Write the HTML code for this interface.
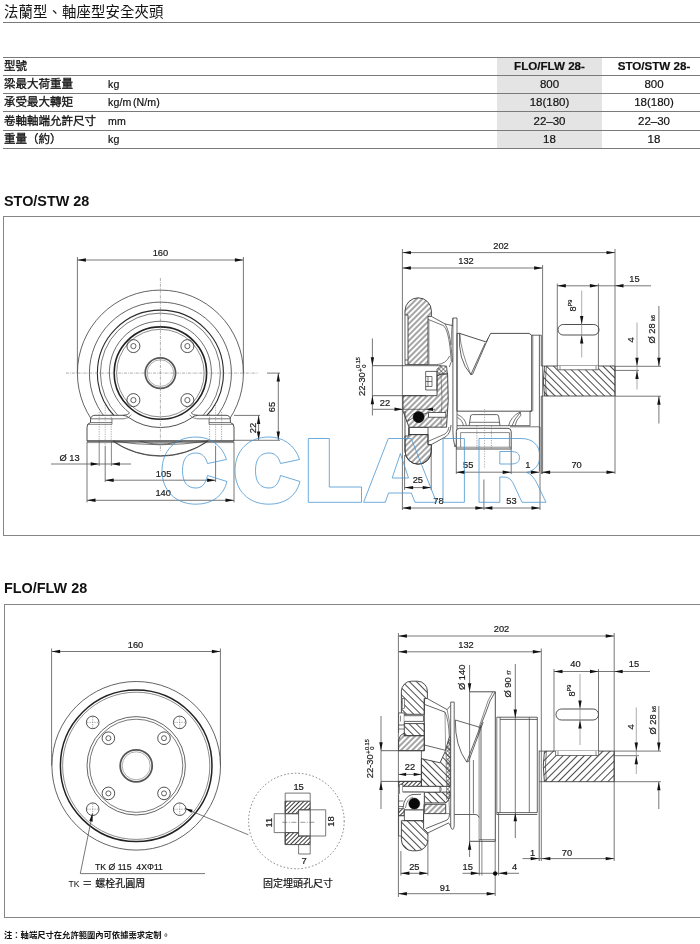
<!DOCTYPE html>
<html lang="zh-Hant">
<head>
<meta charset="utf-8">
<title>法蘭型、軸座型安全夾頭</title>
<style>
html,body{margin:0;padding:0;}
body{width:700px;height:944px;position:relative;overflow:hidden;background:#fff;font-family:"Liberation Sans","Noto Sans CJK TC",sans-serif;color:#111;}
.abs{position:absolute;white-space:nowrap;}
.title{left:4px;top:3px;font-size:14.4px;line-height:18px;color:#111;letter-spacing:0.1px;}
.hr{position:absolute;left:3px;right:0;height:1px;background:#7a7a7a;}
.shade{position:absolute;left:497px;top:57px;width:105px;height:91px;background:#e4e4e4;}
.row{position:absolute;left:0;width:700px;height:18px;font-size:11.5px;line-height:18px;}
.row span{position:absolute;top:0;white-space:nowrap;}
.row .l{left:4px;font-size:11.5px;font-weight:normal;-webkit-text-stroke:0.3px #111;color:#111;}
.row .u{left:108px;font-size:10.6px;letter-spacing:0.1px;-webkit-text-stroke:0.2px #111;}
.row .a{left:497px;width:105px;text-align:center;-webkit-text-stroke:0.2px #111;}
.row .b{left:602px;width:104px;text-align:center;-webkit-text-stroke:0.2px #111;}
.row.h .a,.row.h .b{font-weight:bold;font-size:11.6px;}
h2{position:absolute;margin:0;left:4px;font-size:14.4px;line-height:16px;font-weight:bold;color:#111;white-space:nowrap;}
.frame{position:absolute;left:3px;width:720px;border:1px solid #858585;box-sizing:border-box;}
.cap{font-size:10px;line-height:12px;color:#111;-webkit-text-stroke:0.2px #111;}
.note{left:4px;top:929px;font-size:8.3px;line-height:12px;font-weight:bold;color:#111;}
svg{position:absolute;left:0;top:0;will-change:transform;}
#txt{position:absolute;left:0;top:0;width:700px;height:944px;will-change:transform;}
</style>
</head>
<body>
<div id="txt">
<div class="abs title">法蘭型、軸座型安全夾頭</div>
<div class="hr" style="top:22px"></div>

<div class="shade"></div>
<div class="hr" style="top:57px"></div>
<div class="hr" style="top:75px"></div>
<div class="hr" style="top:93px"></div>
<div class="hr" style="top:111px"></div>
<div class="hr" style="top:130px"></div>
<div class="hr" style="top:148px"></div>

<div class="row h" style="top:57.3px"><span class="l">型號</span><span class="a">FLO/FLW 28-</span><span class="b">STO/STW 28-</span></div>
<div class="row" style="top:75.4px"><span class="l">梁最大荷重量</span><span class="u">kg</span><span class="a">800</span><span class="b">800</span></div>
<div class="row" style="top:93.4px"><span class="l">承受最大轉矩</span><span class="u">kg/m<i style="font-style:normal;margin-left:1.6px">(N/m)</i></span><span class="a">18(180)</span><span class="b">18(180)</span></div>
<div class="row" style="top:111.5px"><span class="l">卷軸軸端允許尺寸</span><span class="u">mm</span><span class="a">22–30</span><span class="b">22–30</span></div>
<div class="row" style="top:130.3px"><span class="l">重量（約）</span><span class="u">kg</span><span class="a">18</span><span class="b">18</span></div>

<h2 style="top:193px">STO/STW 28</h2>
<div class="frame" style="top:216px;height:320px"></div>

<h2 style="top:580px">FLO/FLW 28</h2>
<div class="frame" style="top:604px;height:314px;left:4px"></div>

<div class="abs cap" style="left:68.6px;top:877.6px"><span style="font-size:8.6px;-webkit-text-stroke:0;color:#111">TK</span><span>&nbsp;＝&nbsp;螺栓孔圓周</span></div>
<div class="abs cap" style="left:263px;top:878px">固定埋頭孔尺寸</div>
<div class="abs note">注：軸端尺寸在允許範圍內可依據需求定制。</div>

</div>
<svg id="dwg" width="700" height="944" viewBox="0 0 700 944" font-family="Liberation Sans, sans-serif">
<!--DRAWINGS-->
<defs>
<pattern id="hA" width="4" height="4" patternUnits="userSpaceOnUse" patternTransform="rotate(-45)"><line x1="0" y1="2" x2="4" y2="2" stroke="#2a2a2a" stroke-width="0.85"/></pattern>
<pattern id="hB" width="5" height="5" patternUnits="userSpaceOnUse" patternTransform="rotate(45)"><line x1="0" y1="2.5" x2="5" y2="2.5" stroke="#2a2a2a" stroke-width="0.85"/></pattern>
<pattern id="hC" width="3" height="3" patternUnits="userSpaceOnUse" patternTransform="rotate(-45)"><line x1="0" y1="1.5" x2="3" y2="1.5" stroke="#222" stroke-width="0.9"/></pattern>
<pattern id="hD" width="5" height="5" patternUnits="userSpaceOnUse" patternTransform="rotate(-45)"><line x1="0" y1="2.5" x2="5" y2="2.5" stroke="#2a2a2a" stroke-width="0.85"/></pattern>
<pattern id="hX" width="3" height="3" patternUnits="userSpaceOnUse" patternTransform="rotate(45)"><line x1="0" y1="1.5" x2="3" y2="1.5" stroke="#444" stroke-width="0.6"/><line x1="1.5" y1="0" x2="1.5" y2="3" stroke="#444" stroke-width="0.6"/></pattern>
</defs>
<g id="d1front">
<circle cx="160.4" cy="373.1" r="83" stroke="#3c3c3c" stroke-width="0.8" fill="none"/>
<circle cx="160.4" cy="373.1" r="71" stroke="#3c3c3c" stroke-width="0.8" fill="none"/>
<circle cx="160.4" cy="373.1" r="63" stroke="#2a2a2a" stroke-width="1.1" fill="none"/>
<circle cx="160.4" cy="373.1" r="60" stroke="#3c3c3c" stroke-width="0.7" fill="none"/>
<path d="M87 441 L87 427 Q87 423.5 90.5 422.6 L90.5 419.5 Q91 415.3 95 415.3 L123 415.3 Q127.6 415.9 128.8 417.6 A55.3 55.3 0 0 0 192 417.6 Q193.2 415.9 197.8 415.3 L226 415.3 Q230 415.3 230.4 419.5 L230.4 422.6 Q234 423.5 234 427 L234 441 Z" stroke="#3c3c3c" stroke-width="0.9" fill="#fff"/>
<line x1="90.5" y1="418.8" x2="124" y2="418.8" stroke="#3c3c3c" stroke-width="0.7"/>
<line x1="197" y1="418.8" x2="230.4" y2="418.8" stroke="#3c3c3c" stroke-width="0.7"/>
<line x1="90.5" y1="422.6" x2="112" y2="422.6" stroke="#3c3c3c" stroke-width="0.7"/>
<line x1="209" y1="422.6" x2="230.4" y2="422.6" stroke="#3c3c3c" stroke-width="0.7"/>
<path d="M112 418.8 L112 424.4 L87.5 424.4" stroke="#3c3c3c" stroke-width="0.6" fill="none"/>
<path d="M209 418.8 L209 424.4 L233.5 424.4" stroke="#3c3c3c" stroke-width="0.6" fill="none"/>
<line x1="87" y1="441" x2="234" y2="441" stroke="#3c3c3c" stroke-width="1.0"/>
<line x1="87" y1="442.6" x2="234" y2="442.6" stroke="#3c3c3c" stroke-width="0.6"/>
<path d="M123 415.3 Q128.4 415 129.6 412.9 A51 51 0 1 1 191.2 412.9 Q192.4 415 197.8 415.3" stroke="#3c3c3c" stroke-width="0.75" fill="none"/>
<path d="M124 418.8 Q129.4 418.4 131.2 414.6 M197 418.8 Q191.4 418.4 189.6 414.6" stroke="#3c3c3c" stroke-width="0.6" fill="none"/>
<circle cx="160.4" cy="373.1" r="46.2" stroke="#222" stroke-width="1.6" fill="none"/>
<circle cx="160.4" cy="373.1" r="43.8" stroke="#3c3c3c" stroke-width="0.6" fill="none"/>
<circle cx="160.4" cy="373.1" r="15.2" stroke="#555" stroke-width="1.7" fill="none"/>
<circle cx="160.4" cy="373.1" r="13.3" stroke="#777" stroke-width="0.6" fill="none"/>
<circle cx="133.4" cy="346.1" r="6.5" stroke="#3c3c3c" stroke-width="0.9" fill="none"/>
<circle cx="133.4" cy="346.1" r="2.6" stroke="#3c3c3c" stroke-width="0.8" fill="none"/>
<circle cx="133.4" cy="400.1" r="6.5" stroke="#3c3c3c" stroke-width="0.9" fill="none"/>
<circle cx="133.4" cy="400.1" r="2.6" stroke="#3c3c3c" stroke-width="0.8" fill="none"/>
<circle cx="187.4" cy="346.1" r="6.5" stroke="#3c3c3c" stroke-width="0.9" fill="none"/>
<circle cx="187.4" cy="346.1" r="2.6" stroke="#3c3c3c" stroke-width="0.8" fill="none"/>
<circle cx="187.4" cy="400.1" r="6.5" stroke="#3c3c3c" stroke-width="0.9" fill="none"/>
<circle cx="187.4" cy="400.1" r="2.6" stroke="#3c3c3c" stroke-width="0.8" fill="none"/>
<path d="M113 441 A83 83 0 0 0 207.8 441" stroke="#3c3c3c" stroke-width="0.8" fill="none"/>
<path d="M113 441 Q160.4 448.6 207.8 441" stroke="#3c3c3c" stroke-width="0.7" fill="none"/>
<line x1="99.2" y1="412" x2="99.2" y2="441" stroke="#666" stroke-width="0.6" stroke-dasharray="1.2 1.2"/>
<line x1="111.2" y1="412" x2="111.2" y2="441" stroke="#666" stroke-width="0.6" stroke-dasharray="1.2 1.2"/>
<line x1="105.2" y1="405" x2="105.2" y2="446" stroke="#777" stroke-width="0.6" stroke-dasharray="1.2 1.2"/>
<line x1="209.6" y1="412" x2="209.6" y2="441" stroke="#666" stroke-width="0.6" stroke-dasharray="1.2 1.2"/>
<line x1="221.6" y1="412" x2="221.6" y2="441" stroke="#666" stroke-width="0.6" stroke-dasharray="1.2 1.2"/>
<line x1="215.6" y1="405" x2="215.6" y2="446" stroke="#777" stroke-width="0.6" stroke-dasharray="1.2 1.2"/>
<line x1="160.4" y1="278" x2="160.4" y2="452" stroke="#777" stroke-width="0.6" stroke-dasharray="3 1 0.8 1"/>
<line x1="66" y1="373.1" x2="258" y2="373.1" stroke="#777" stroke-width="0.6" stroke-dasharray="3 1 0.8 1"/>
<line x1="77.4" y1="257" x2="77.4" y2="373.1" stroke="#555" stroke-width="0.8"/>
<line x1="243.4" y1="257" x2="243.4" y2="373.1" stroke="#555" stroke-width="0.8"/>
<line x1="77.4" y1="260" x2="243.4" y2="260" stroke="#555" stroke-width="0.8"/>
<polygon points="77.4,260.0 85.9,258.3 85.9,261.7" fill="#111"/>
<polygon points="243.4,260.0 234.9,258.3 234.9,261.7" fill="#111"/>
<text x="160.4" y="256.3" font-size="9.3" text-anchor="middle" fill="#1a1a1a" stroke="#1a1a1a" stroke-width="0.2">160</text>
<line x1="267" y1="373.1" x2="280" y2="373.1" stroke="#555" stroke-width="0.8"/>
<line x1="234" y1="440.3" x2="280" y2="440.3" stroke="#555" stroke-width="0.8"/>
<line x1="278.3" y1="373.1" x2="278.3" y2="440" stroke="#555" stroke-width="0.8"/>
<polygon points="278.3,373.1 276.6,381.6 280.0,381.6" fill="#111"/>
<polygon points="278.3,440.0 276.6,431.5 280.0,431.5" fill="#111"/>
<text x="275.4" y="407" font-size="9.3" text-anchor="middle" fill="#1a1a1a" stroke="#1a1a1a" stroke-width="0.2" transform="rotate(-90 275.4 407)">65</text>
<line x1="234" y1="415.4" x2="260" y2="415.4" stroke="#555" stroke-width="0.8"/>
<line x1="258.6" y1="415.4" x2="258.6" y2="440" stroke="#555" stroke-width="0.8"/>
<polygon points="258.6,415.4 256.9,423.9 260.3,423.9" fill="#111"/>
<polygon points="258.6,440.0 256.9,431.5 260.3,431.5" fill="#111"/>
<text x="255.8" y="428" font-size="9.3" text-anchor="middle" fill="#1a1a1a" stroke="#1a1a1a" stroke-width="0.2" transform="rotate(-90 255.8 428)">22</text>
<line x1="51" y1="464" x2="131" y2="464" stroke="#555" stroke-width="0.8"/>
<polygon points="99.2,464.0 90.7,462.3 90.7,465.7" fill="#111"/>
<polygon points="111.4,464.0 119.9,462.3 119.9,465.7" fill="#111"/>
<line x1="99.2" y1="441" x2="99.2" y2="466" stroke="#555" stroke-width="0.7"/>
<line x1="111.4" y1="441" x2="111.4" y2="466" stroke="#555" stroke-width="0.7"/>
<text x="59.5" y="461" font-size="9.3" text-anchor="start" fill="#1a1a1a" stroke="#1a1a1a" stroke-width="0.2">Ø 13</text>
<line x1="105.2" y1="446" x2="105.2" y2="482" stroke="#555" stroke-width="0.8"/>
<line x1="215.6" y1="446" x2="215.6" y2="482" stroke="#555" stroke-width="0.8"/>
<line x1="105.2" y1="480.2" x2="215.6" y2="480.2" stroke="#555" stroke-width="0.8"/>
<polygon points="105.2,480.2 113.7,478.5 113.7,481.9" fill="#111"/>
<polygon points="215.6,480.2 207.1,478.5 207.1,481.9" fill="#111"/>
<text x="163.6" y="476.5" font-size="9.3" text-anchor="middle" fill="#1a1a1a" stroke="#1a1a1a" stroke-width="0.2">105</text>
<line x1="87" y1="442" x2="87" y2="502.5" stroke="#555" stroke-width="0.8"/>
<line x1="234" y1="442" x2="234" y2="502.5" stroke="#555" stroke-width="0.8"/>
<line x1="87" y1="500.3" x2="234" y2="500.3" stroke="#555" stroke-width="0.8"/>
<polygon points="87.0,500.3 95.5,498.6 95.5,502.0" fill="#111"/>
<polygon points="234.0,500.3 225.5,498.6 225.5,502.0" fill="#111"/>
<text x="163.2" y="496" font-size="9.3" text-anchor="middle" fill="#1a1a1a" stroke="#1a1a1a" stroke-width="0.2">140</text>
</g>
<g id="d1side">
<line x1="402.4" y1="249" x2="402.4" y2="510" stroke="#555" stroke-width="0.8"/>
<line x1="615" y1="249" x2="615" y2="474" stroke="#555" stroke-width="0.8"/>
<line x1="542.6" y1="265" x2="542.6" y2="474" stroke="#555" stroke-width="0.8"/>
<line x1="402.4" y1="252.6" x2="615" y2="252.6" stroke="#555" stroke-width="0.8"/>
<polygon points="402.4,252.6 410.9,250.9 410.9,254.3" fill="#111"/>
<polygon points="615.0,252.6 606.5,250.9 606.5,254.3" fill="#111"/>
<text x="501" y="248.5" font-size="9.3" text-anchor="middle" fill="#1a1a1a" stroke="#1a1a1a" stroke-width="0.2">202</text>
<line x1="402.4" y1="268" x2="542.6" y2="268" stroke="#555" stroke-width="0.8"/>
<polygon points="402.4,268.0 410.9,266.3 410.9,269.7" fill="#111"/>
<polygon points="542.6,268.0 534.1,266.3 534.1,269.7" fill="#111"/>
<text x="466" y="264" font-size="9.3" text-anchor="middle" fill="#1a1a1a" stroke="#1a1a1a" stroke-width="0.2">132</text>
<path d="M408 364.6 L408 315 L405 315 L405 311 A13.2 13.2 0 0 1 431.4 311 L431.4 316.4 L428 316.4 L428 364.6 Z" stroke="#3c3c3c" stroke-width="0.9" fill="url(#hA)"/>
<path d="M405 315 L405 364.6 L408 364.6 M405 360 L408 360" stroke="#3c3c3c" stroke-width="0.8" fill="none"/>
<path d="M431.4 316.4 L445 323.9 L452.9 325.7" stroke="#3c3c3c" stroke-width="0.8" fill="none"/>
<path d="M428 319.3 L443.6 325.7 Q448 330 450 347 L451.4 361.4 L449.3 367" stroke="#3c3c3c" stroke-width="0.7" fill="none"/>
<path d="M445 323.9 Q449.5 331 451.1 347 L452.6 362" stroke="#3c3c3c" stroke-width="0.7" fill="none"/>
<path d="M428 364.6 L437 364.6 Q446 364 449.6 356" stroke="#3c3c3c" stroke-width="0.7" fill="none"/>
<line x1="429" y1="320" x2="429" y2="364.6" stroke="#3c3c3c" stroke-width="0.5"/>
<path d="M452.9 318 L457 318 L457 440 Q456.5 445 455 447 Q453 440 452.9 432 Z" stroke="#3c3c3c" stroke-width="0.8" fill="#fff"/>
<path d="M452.9 318 Q451 330 451.3 345" stroke="#3c3c3c" stroke-width="0.6" fill="none"/>
<line x1="372" y1="365.7" x2="441" y2="365.7" stroke="#3c3c3c" stroke-width="0.8"/>
<line x1="372" y1="395.7" x2="426" y2="395.7" stroke="#3c3c3c" stroke-width="0.8"/>
<path d="M425.7 371.4 H437 V390 H425.7 Z" stroke="#3c3c3c" stroke-width="0.8" fill="none"/>
<path d="M425.7 376.5 H432 V386.5 H425.7 M428 376.5 V386.5 M425.7 381.5 H432" stroke="#3c3c3c" stroke-width="0.7" fill="none"/>
<path d="M437 369 L441 365.7 L446.5 366 L447.6 374 L441 374 L437 376 Z" stroke="#3c3c3c" stroke-width="0.7" fill="url(#hX)"/>
<path d="M403 395.7 L437 395.7 L437 376 L441 374 L447.6 374 Q449.4 400 446.5 427.2 L409 427.2 L403 411 Z" stroke="#3c3c3c" stroke-width="0.9" fill="url(#hA)"/>
<path d="M441 374 Q443 398 441 425" stroke="#3c3c3c" stroke-width="0.5" fill="none"/>
<rect x="428.6" y="412.6" width="17.2" height="4.6" rx="0" stroke="#3c3c3c" stroke-width="0.8" fill="#fff"/>
<path d="M408 420 L413 414 L424 414 L428.6 412.6" stroke="#3c3c3c" stroke-width="0.7" fill="#fff"/>
<path d="M406.5 421.5 L414 417.5" stroke="#3c3c3c" stroke-width="0.7" fill="none"/>
<circle cx="418.6" cy="417.1" r="5.6" stroke="#000" stroke-width="0.5" fill="#0a0a0a"/>
<rect x="409.3" y="427.6" width="18.7" height="7" rx="0" stroke="#3c3c3c" stroke-width="0.8" fill="#fff"/>
<path d="M405 411 L405 451 A13.2 13.2 0 0 0 431.4 451 L431.4 444.6 L428 444.6 L428 434.6 L408.6 434.6 L408.6 427.2" stroke="#3c3c3c" stroke-width="0.9" fill="none"/>
<path d="M408.6 434.6 L428 434.6 L428 444.6 L431.4 444.6 L431.4 451 A13.2 13.2 0 0 1 405 451 L405 436 L408.6 436 Z" stroke="#3c3c3c" stroke-width="0.9" fill="url(#hA)"/>
<path d="M431.4 444.6 L446 436.5 Q450.5 433 451 425" stroke="#3c3c3c" stroke-width="0.8" fill="none"/>
<path d="M428 441.4 L445 434 Q448.5 431.5 449 427" stroke="#3c3c3c" stroke-width="0.7" fill="none"/>
<path d="M459.7 333.4 L486.3 342 L490.6 333.4 L529.1 333.4 L531.7 335.2 L531.7 411.2 L457 411.2 L457 333.4 Z" stroke="#3c3c3c" stroke-width="0.9" fill="none"/>
<path d="M459.7 333.4 Q457.5 360 470.9 374.6 L485.2 343 M470.9 374.6 L472.6 374.2 L488 338.5" stroke="#3c3c3c" stroke-width="0.8" fill="none"/>
<path d="M459.7 333.4 Q461 352 470.9 374.6" stroke="#3c3c3c" stroke-width="0.6" fill="none"/>
<path d="M531.7 335.2 L539.4 335.2 L539.4 471.5 M541.3 335.2 L539.4 335.2 M541.3 335.2 L541.3 366 M541.3 396 L541.3 474" stroke="#3c3c3c" stroke-width="0.8" fill="none"/>
<line x1="532.8" y1="335.2" x2="532.8" y2="411.2" stroke="#3c3c3c" stroke-width="0.6"/>
<path d="M531.7 411.2 L530 411.2 L530 425.7" stroke="#3c3c3c" stroke-width="0.8" fill="none"/>
<path d="M544.5 366 L615 366 L615 396 L544.5 396 Q542.2 381 544.5 366 Z" stroke="#3c3c3c" stroke-width="0.9" fill="url(#hB)"/>
<path d="M541.3 366 L544.5 366 M541.3 396 L544.5 396 M546.4 366 Q544.4 381 546.4 396" stroke="#3c3c3c" stroke-width="0.7" fill="none"/>
<path d="M557.3 366 L557.3 369.8 L598.4 369.8 L598.4 366" stroke="#3c3c3c" stroke-width="0.7" fill="#fff"/>
<line x1="560" y1="366" x2="560" y2="369.8" stroke="#3c3c3c" stroke-width="0.6"/>
<line x1="596" y1="366" x2="596" y2="369.8" stroke="#3c3c3c" stroke-width="0.6"/>
<path d="M457 425.7 L530 425.7" stroke="#3c3c3c" stroke-width="0.8" fill="none"/>
<path d="M456.3 449 L456.3 431.5 Q456.3 428.3 459.5 428.3 L508 428.3 Q511.2 428.3 511.2 431.5 L511.2 449 Z" stroke="#3c3c3c" stroke-width="0.9" fill="#fff"/>
<path d="M460.6 447.2 L460.6 432.6 L509.4 432.6 L509.4 447.2" stroke="#3c3c3c" stroke-width="0.6" fill="none"/>
<line x1="456.3" y1="447.2" x2="511.2" y2="447.2" stroke="#3c3c3c" stroke-width="0.6"/>
<line x1="510" y1="426.8" x2="539.4" y2="426.8" stroke="#3c3c3c" stroke-width="0.7"/>
<path d="M469.1 425.7 L470.6 416 Q471 414.6 472.5 414.6 L496.6 414.6 Q498.2 414.6 498.6 416 L500 425.7" stroke="#3c3c3c" stroke-width="0.8" fill="none"/>
<line x1="469.6" y1="422.3" x2="499.6" y2="422.3" stroke="#3c3c3c" stroke-width="0.7"/>
<path d="M457.4 417.5 Q462.5 420 463.4 425.7 M457.4 414.5 Q465.5 418 466.4 425.7" stroke="#3c3c3c" stroke-width="0.7" fill="none"/>
<path d="M520 412 Q510.5 417 508.6 425.7 M520.6 412 Q514 419 512 425.7 M520 412 L521 415 Q516 420 515 425.7" stroke="#3c3c3c" stroke-width="0.7" fill="none"/>
<line x1="476.9" y1="425.7" x2="476.9" y2="449" stroke="#666" stroke-width="0.6" stroke-dasharray="1.2 1.2"/>
<line x1="491.4" y1="425.7" x2="491.4" y2="449" stroke="#666" stroke-width="0.6" stroke-dasharray="1.2 1.2"/>
<line x1="484.6" y1="409" x2="484.6" y2="469" stroke="#777" stroke-width="0.6" stroke-dasharray="1.2 1.4"/>
<line x1="483.9" y1="479.5" x2="483.9" y2="510" stroke="#555" stroke-width="0.8"/>
<line x1="456.3" y1="449" x2="456.3" y2="474" stroke="#555" stroke-width="0.8"/>
<line x1="511.2" y1="449" x2="511.2" y2="474" stroke="#555" stroke-width="0.8"/>
<line x1="456.3" y1="472.2" x2="511.2" y2="472.2" stroke="#555" stroke-width="0.8"/>
<polygon points="456.3,472.2 464.8,470.5 464.8,473.9" fill="#111"/>
<polygon points="511.2,472.2 502.7,470.5 502.7,473.9" fill="#111"/>
<text x="468.2" y="467.6" font-size="9.3" text-anchor="middle" fill="#1a1a1a" stroke="#1a1a1a" stroke-width="0.2">55</text>
<line x1="511.2" y1="472.2" x2="539.4" y2="472.2" stroke="#555" stroke-width="0.8"/>
<polygon points="539.4,472.2 530.9,470.5 530.9,473.9" fill="#111"/>
<line x1="541.3" y1="472.2" x2="615" y2="472.2" stroke="#555" stroke-width="0.8"/>
<polygon points="541.6,472.2 550.1,470.5 550.1,473.9" fill="#111"/>
<polygon points="615.0,472.2 606.5,470.5 606.5,473.9" fill="#111"/>
<text x="527.8" y="468.3" font-size="9.3" text-anchor="middle" fill="#1a1a1a" stroke="#1a1a1a" stroke-width="0.2">1</text>
<text x="576.6" y="468.3" font-size="9.3" text-anchor="middle" fill="#1a1a1a" stroke="#1a1a1a" stroke-width="0.2">70</text>
<line x1="404.6" y1="455" x2="404.6" y2="490" stroke="#555" stroke-width="0.8"/>
<line x1="431.2" y1="444" x2="431.2" y2="490" stroke="#555" stroke-width="0.8"/>
<line x1="404.6" y1="487.6" x2="431.2" y2="487.6" stroke="#555" stroke-width="0.8"/>
<polygon points="404.6,487.6 413.1,485.9 413.1,489.3" fill="#111"/>
<polygon points="431.2,487.6 422.7,485.9 422.7,489.3" fill="#111"/>
<text x="417.8" y="483" font-size="9.3" text-anchor="middle" fill="#1a1a1a" stroke="#1a1a1a" stroke-width="0.2">25</text>
<line x1="402.4" y1="508" x2="540" y2="508" stroke="#555" stroke-width="0.8"/>
<polygon points="402.4,508.0 410.9,506.3 410.9,509.7" fill="#111"/>
<polygon points="483.9,508.0 475.4,506.3 475.4,509.7" fill="#111"/>
<polygon points="483.9,508.0 492.4,506.3 492.4,509.7" fill="#111"/>
<polygon points="540.0,508.0 531.5,506.3 531.5,509.7" fill="#111"/>
<line x1="540" y1="427" x2="540" y2="510" stroke="#555" stroke-width="0.8"/>
<text x="438.4" y="504.2" font-size="9.3" text-anchor="middle" fill="#1a1a1a" stroke="#1a1a1a" stroke-width="0.2">78</text>
<text x="511.5" y="504.2" font-size="9.3" text-anchor="middle" fill="#1a1a1a" stroke="#1a1a1a" stroke-width="0.2">53</text>
<line x1="372.4" y1="338.5" x2="372.4" y2="415.5" stroke="#555" stroke-width="0.8"/>
<polygon points="372.4,365.7 370.7,357.2 374.1,357.2" fill="#111"/>
<polygon points="372.4,395.7 370.7,404.2 374.1,404.2" fill="#111"/>
<text transform="translate(364.6 396) rotate(-90)" font-size="9.3" fill="#1a1a1a" stroke="#1a1a1a" stroke-width="0.2">22-30<tspan font-size="6.5" dy="-2" dx="0.3">+</tspan><tspan font-size="5.6" dy="-2.2" dx="0.2">0.15</tspan><tspan font-size="5.6" dy="5.6" dx="-10.6">0</tspan></text>
<line x1="373" y1="409.3" x2="435" y2="409.3" stroke="#555" stroke-width="0.8"/>
<polygon points="403.0,409.3 394.5,407.6 394.5,411.0" fill="#111"/>
<polygon points="426.0,409.3 433.0,407.6 433.0,411.0" fill="#111"/>
<text x="385" y="405.7" font-size="9.3" text-anchor="middle" fill="#1a1a1a" stroke="#1a1a1a" stroke-width="0.2">22</text>
<line x1="557.3" y1="283.5" x2="557.3" y2="366" stroke="#555" stroke-width="0.8"/>
<line x1="598.4" y1="283.5" x2="598.4" y2="366" stroke="#555" stroke-width="0.8"/>
<line x1="557.3" y1="285.8" x2="651" y2="285.8" stroke="#555" stroke-width="0.8"/>
<polygon points="557.3,285.8 565.8,284.1 565.8,287.5" fill="#111"/>
<polygon points="598.4,285.8 589.9,284.1 589.9,287.5" fill="#111"/>
<polygon points="615.0,285.8 623.5,284.1 623.5,287.5" fill="#111"/>
<text x="634.4" y="282.3" font-size="9.3" text-anchor="middle" fill="#1a1a1a" stroke="#1a1a1a" stroke-width="0.2">15</text>
<rect x="558" y="324.5" width="41" height="10.5" rx="5.2" stroke="#3c3c3c" stroke-width="0.9" fill="none"/>
<line x1="581.7" y1="290.5" x2="581.7" y2="357.5" stroke="#888" stroke-width="0.7"/>
<polygon points="581.7,324.5 580.0,316.0 583.4,316.0" fill="#111"/>
<polygon points="581.7,335.0 580.0,343.5 583.4,343.5" fill="#111"/>
<text transform="translate(576.3 311.5) rotate(-90)" font-size="9.3" fill="#1a1a1a" stroke="#1a1a1a" stroke-width="0.2">8<tspan font-size="5.5" dy="-4">P9</tspan></text>
<line x1="615" y1="366.3" x2="661" y2="366.3" stroke="#555" stroke-width="0.8"/>
<line x1="615" y1="370.4" x2="639" y2="370.4" stroke="#555" stroke-width="0.8"/>
<line x1="615" y1="396.2" x2="661" y2="396.2" stroke="#555" stroke-width="0.8"/>
<line x1="637" y1="322.5" x2="637" y2="389.5" stroke="#888" stroke-width="0.7"/>
<polygon points="637.0,366.3 635.3,357.8 638.7,357.8" fill="#111"/>
<polygon points="637.0,370.4 635.3,378.9 638.7,378.9" fill="#111"/>
<text x="634.3" y="340" font-size="9.3" text-anchor="middle" fill="#1a1a1a" stroke="#1a1a1a" stroke-width="0.2" transform="rotate(-90 634.3 340)">4</text>
<line x1="658.9" y1="306" x2="658.9" y2="366" stroke="#555" stroke-width="0.8"/>
<polygon points="658.9,366.3 657.2,357.8 660.6,357.8" fill="#111"/>
<line x1="658.9" y1="396" x2="658.9" y2="423.5" stroke="#555" stroke-width="0.8"/>
<polygon points="658.9,396.2 657.2,404.7 660.6,404.7" fill="#111"/>
<text transform="translate(655.4 343.5) rotate(-90)" font-size="9.3" fill="#1a1a1a" stroke="#1a1a1a" stroke-width="0.2">Ø 28 <tspan font-size="5.5">k6</tspan></text>
</g>
<g id="wm" fill="none" stroke="#4a97d2" stroke-width="0.8">
<path d="M226.5 459.5 C222 445 210 437 196 437 C175 437 162 451 162 470.6 C162 490 175 504.2 196 504.2 C212 504.2 223.5 496 227 481.5 L207.5 475.5 C205.5 484 202 488 196 488 C187 488 182.5 482 182.5 470.5 C182.5 459 187 453 196 453 C202 453 205.5 456.5 207.5 463.5 Z"/>
<path d="M299.5 459.5 C295 445 283 437 269 437 C248 437 235 451 235 470.6 C235 490 248 504.2 269 504.2 C285 504.2 296.5 496 300 481.5 L280.5 475.5 C278.5 484 275 488 269 488 C260 488 255.5 482 255.5 470.5 C255.5 459 260 453 269 453 C275 453 278.5 456.5 280.5 463.5 Z"/>
<path d="M308.3 438.5 H329.3 V487 H361.5 V502.3 H308.3 Z"/>
<path d="M388.3 438.5 H411.2 L436.5 502.3 H415 L411.3 493 H388.5 L385.3 502.3 H363.6 Z M400.4 453.5 L392.2 478 H408.5 Z"/>
<path d="M443 438.5 H464.4 V502.3 H443 Z"/>
<path d="M479 438.5 H521 C532.5 438.5 539.8 445 539.8 456 C539.8 465 535 470.5 526.5 472.5 C531 474 534 477.5 537 483.5 L546 502.3 H522 L514 485 C511.5 479.5 509 477 503 477 H499.8 V502.3 H479 Z M499.8 451.5 V464 H511 C516.5 464 519.5 462 519.5 457.7 C519.5 453.5 516.5 451.5 511 451.5 Z"/>
</g>
<g id="d2front">
<circle cx="136.2" cy="765.8" r="84.3" stroke="#3c3c3c" stroke-width="0.8" fill="none"/>
<circle cx="136.2" cy="765.8" r="75.8" stroke="#222" stroke-width="1.5" fill="none"/>
<circle cx="136.2" cy="765.8" r="73.6" stroke="#3c3c3c" stroke-width="0.6" fill="none"/>
<circle cx="136.2" cy="765.8" r="49.2" stroke="#3c3c3c" stroke-width="0.8" fill="none"/>
<circle cx="136.2" cy="765.8" r="46.6" stroke="#3c3c3c" stroke-width="0.7" fill="none"/>
<circle cx="136.2" cy="765.8" r="16" stroke="#555" stroke-width="1.8" fill="none"/>
<circle cx="136.2" cy="765.8" r="14" stroke="#777" stroke-width="0.6" fill="none"/>
<circle cx="108.39999999999999" cy="738.1999999999999" r="6.3" stroke="#3c3c3c" stroke-width="0.9" fill="none"/>
<circle cx="108.39999999999999" cy="738.1999999999999" r="2.5" stroke="#3c3c3c" stroke-width="0.8" fill="none"/>
<circle cx="92.69999999999999" cy="722.4" r="6.3" stroke="#3c3c3c" stroke-width="0.9" fill="none"/>
<line x1="87.19999999999999" y1="722.4" x2="98.19999999999999" y2="722.4" stroke="#666" stroke-width="0.6" stroke-dasharray="1.2 1.2"/>
<line x1="92.69999999999999" y1="716.9" x2="92.69999999999999" y2="727.9" stroke="#666" stroke-width="0.6" stroke-dasharray="1.2 1.2"/>
<circle cx="108.39999999999999" cy="793.4" r="6.3" stroke="#3c3c3c" stroke-width="0.9" fill="none"/>
<circle cx="108.39999999999999" cy="793.4" r="2.5" stroke="#3c3c3c" stroke-width="0.8" fill="none"/>
<circle cx="92.69999999999999" cy="809.1999999999999" r="6.3" stroke="#3c3c3c" stroke-width="0.9" fill="none"/>
<line x1="87.19999999999999" y1="809.1999999999999" x2="98.19999999999999" y2="809.1999999999999" stroke="#666" stroke-width="0.6" stroke-dasharray="1.2 1.2"/>
<line x1="92.69999999999999" y1="803.6999999999999" x2="92.69999999999999" y2="814.6999999999999" stroke="#666" stroke-width="0.6" stroke-dasharray="1.2 1.2"/>
<circle cx="164.0" cy="738.1999999999999" r="6.3" stroke="#3c3c3c" stroke-width="0.9" fill="none"/>
<circle cx="164.0" cy="738.1999999999999" r="2.5" stroke="#3c3c3c" stroke-width="0.8" fill="none"/>
<circle cx="179.7" cy="722.4" r="6.3" stroke="#3c3c3c" stroke-width="0.9" fill="none"/>
<line x1="174.2" y1="722.4" x2="185.2" y2="722.4" stroke="#666" stroke-width="0.6" stroke-dasharray="1.2 1.2"/>
<line x1="179.7" y1="716.9" x2="179.7" y2="727.9" stroke="#666" stroke-width="0.6" stroke-dasharray="1.2 1.2"/>
<circle cx="164.0" cy="793.4" r="6.3" stroke="#3c3c3c" stroke-width="0.9" fill="none"/>
<circle cx="164.0" cy="793.4" r="2.5" stroke="#3c3c3c" stroke-width="0.8" fill="none"/>
<circle cx="179.7" cy="809.1999999999999" r="6.3" stroke="#3c3c3c" stroke-width="0.9" fill="none"/>
<line x1="174.2" y1="809.1999999999999" x2="185.2" y2="809.1999999999999" stroke="#666" stroke-width="0.6" stroke-dasharray="1.2 1.2"/>
<line x1="179.7" y1="803.6999999999999" x2="179.7" y2="814.6999999999999" stroke="#666" stroke-width="0.6" stroke-dasharray="1.2 1.2"/>
<line x1="51.6" y1="648.5" x2="51.6" y2="765.8" stroke="#555" stroke-width="0.8"/>
<line x1="220.4" y1="648.5" x2="220.4" y2="765.8" stroke="#555" stroke-width="0.8"/>
<line x1="51.6" y1="651.5" x2="220.4" y2="651.5" stroke="#555" stroke-width="0.8"/>
<polygon points="51.6,651.5 60.1,649.8 60.1,653.2" fill="#111"/>
<polygon points="220.4,651.5 211.9,649.8 211.9,653.2" fill="#111"/>
<text x="135.5" y="648" font-size="9.3" text-anchor="middle" fill="#1a1a1a" stroke="#1a1a1a" stroke-width="0.2">160</text>
<path d="M92.3 814.5 L80.3 873.6 L205 873.6" stroke="#555" stroke-width="0.8" fill="none"/>
<polygon points="92.6,812.8 92.6,821.8 89.3,821" fill="#111"/>
<path d="M185.8 808.8 L248.4 834.8" stroke="#555" stroke-width="0.8" fill="none"/>
<polygon points="184.6,808.3 192.6,809.8 191.4,812.8" fill="#111"/>
<text x="95" y="870" font-size="8.7" text-anchor="start" fill="#1a1a1a" stroke="#1a1a1a" stroke-width="0.2">TK Ø 115&#160;&#160;4XΦ11</text>
</g>
<g id="d2detail">
<circle cx="296.4" cy="821" r="47.8" stroke="#666" stroke-width="0.8" fill="none" stroke-dasharray="1.6 2"/>
<path d="M285.2 801.2 H310.2 V809.8 H298.6 V813.7 H285.2 Z" stroke="#3c3c3c" stroke-width="0.9" fill="url(#hC)"/>
<path d="M285.2 832.6 H298.6 V836 H310.2 V844.6 H285.2 Z" stroke="#3c3c3c" stroke-width="0.9" fill="url(#hC)"/>
<line x1="285.2" y1="801.2" x2="285.2" y2="844.6" stroke="#3c3c3c" stroke-width="0.9"/>
<line x1="310.2" y1="809.8" x2="310.2" y2="836" stroke="#3c3c3c" stroke-width="0.9"/>
<line x1="298.6" y1="813.7" x2="298.6" y2="832.6" stroke="#3c3c3c" stroke-width="0.8"/>
<path d="M285.2 801.2 V793.1 H310.2 V801.2" stroke="#555" stroke-width="0.8" fill="none"/>
<text x="298.6" y="790.2" font-size="9.4" text-anchor="middle" fill="#1a1a1a" stroke="#1a1a1a" stroke-width="0.2">15</text>
<path d="M298.6 813.7 H274.2 V832.6 H298.6" stroke="#555" stroke-width="0.8" fill="none"/>
<text x="272.2" y="822.6" font-size="9.4" text-anchor="middle" fill="#1a1a1a" stroke="#1a1a1a" stroke-width="0.2" transform="rotate(-90 272.2 822.6)">11</text>
<path d="M298.6 809.8 H325.7 V836 H298.6" stroke="#555" stroke-width="0.8" fill="none"/>
<text x="334.4" y="821.6" font-size="9.4" text-anchor="middle" fill="#1a1a1a" stroke="#1a1a1a" stroke-width="0.2" transform="rotate(-90 334.4 821.6)">18</text>
<path d="M298.6 844.6 V854 H310.2 V844.6" stroke="#555" stroke-width="0.8" fill="none"/>
<text x="304.2" y="863.6" font-size="9.4" text-anchor="middle" fill="#1a1a1a" stroke="#1a1a1a" stroke-width="0.2">7</text>
<line x1="282.3" y1="822.3" x2="315" y2="822.3" stroke="#555" stroke-width="0.6" stroke-dasharray="5 1.5 1 1.5"/>
</g>
<g id="d2side">
<line x1="398.4" y1="633" x2="398.4" y2="897" stroke="#555" stroke-width="0.8"/>
<line x1="614.2" y1="633" x2="614.2" y2="861" stroke="#555" stroke-width="0.8"/>
<line x1="541.3" y1="648.5" x2="541.3" y2="861" stroke="#555" stroke-width="0.8"/>
<line x1="398.4" y1="636" x2="614.2" y2="636" stroke="#555" stroke-width="0.8"/>
<polygon points="398.4,636.0 406.9,634.3 406.9,637.7" fill="#111"/>
<polygon points="614.2,636.0 605.7,634.3 605.7,637.7" fill="#111"/>
<text x="501.5" y="632.3" font-size="9.3" text-anchor="middle" fill="#1a1a1a" stroke="#1a1a1a" stroke-width="0.2">202</text>
<line x1="398.4" y1="651.8" x2="541.3" y2="651.8" stroke="#555" stroke-width="0.8"/>
<polygon points="398.4,651.8 406.9,650.1 406.9,653.5" fill="#111"/>
<polygon points="541.3,651.8 532.8,650.1 532.8,653.5" fill="#111"/>
<text x="466" y="648" font-size="9.3" text-anchor="middle" fill="#1a1a1a" stroke="#1a1a1a" stroke-width="0.2">132</text>
<path d="M401.4 714.3 L401.4 691.2 A10 10 0 0 1 411.4 681.2 L417.4 681.2 A10 10 0 0 1 427.4 691.2 L427.4 698.6 L424.3 698.6 L424.3 714.3 Z" stroke="#3c3c3c" stroke-width="0.9" fill="url(#hB)"/>
<rect x="402.2" y="698.6" width="2.2" height="10" rx="0" stroke="#3c3c3c" stroke-width="0.6" fill="#fff"/>
<path d="M398.6 712.9 H404.3 V725 H398.6 Z" stroke="#3c3c3c" stroke-width="0.8" fill="#fff"/>
<path d="M404.3 715.7 H423.6 V721.4 H404.3" stroke="#3c3c3c" stroke-width="0.8" fill="#fff"/>
<line x1="400.5" y1="715.7" x2="400.5" y2="721.4" stroke="#3c3c3c" stroke-width="0.6"/>
<path d="M404.3 723.6 H424.3 V735.7 H404.3 Z" stroke="#3c3c3c" stroke-width="0.9" fill="url(#hB)"/>
<line x1="424.3" y1="698.6" x2="424.3" y2="750.7" stroke="#3c3c3c" stroke-width="0.9"/>
<path d="M398.6 725 L398.6 729 L404.3 729 M398.6 729 L398.6 733" stroke="#3c3c3c" stroke-width="0.7" fill="none"/>
<path d="M398.6 750.7 L398.6 740 Q399.5 734.5 404.3 733 L404.3 735.7 L424.3 735.7 L424.3 750.7 Z" stroke="#3c3c3c" stroke-width="0.9" fill="url(#hA)"/>
<line x1="381" y1="750.7" x2="424.3" y2="750.7" stroke="#3c3c3c" stroke-width="0.8"/>
<line x1="381" y1="781.4" x2="421.4" y2="781.4" stroke="#3c3c3c" stroke-width="0.8"/>
<line x1="421.4" y1="750.7" x2="421.4" y2="781.4" stroke="#3c3c3c" stroke-width="0.8"/>
<path d="M427.4 698.6 L447.1 709.6 L450.7 705.5" stroke="#3c3c3c" stroke-width="0.8" fill="none"/>
<path d="M424.3 704.3 L445 712.1" stroke="#3c3c3c" stroke-width="0.8" fill="none"/>
<path d="M445 712.1 Q448.8 720 449.3 737" stroke="#3c3c3c" stroke-width="0.7" fill="none"/>
<path d="M447.1 709.6 Q450.5 722 450.3 737" stroke="#3c3c3c" stroke-width="0.6" fill="none"/>
<path d="M424.3 745 L445 750.2" stroke="#3c3c3c" stroke-width="0.8" fill="none"/>
<path d="M445 712.1 L445.6 750.2" stroke="#3c3c3c" stroke-width="0.5" fill="none"/>
<path d="M421.4 758.6 L440 762.8 L445 752 L449.3 737 L450.3 737 L450.3 786.4 L421.4 786.4 Z" stroke="#3c3c3c" stroke-width="0.9" fill="url(#hB)"/>
<path d="M424.3 792.1 L450.3 792.1 L449.6 798.6 L445.7 802.9 L424.3 802.9 Z" stroke="#3c3c3c" stroke-width="0.9" fill="url(#hB)"/>
<path d="M446 748 L449.3 737 L450.4 737 L450.4 798 L447 801 Z" stroke="none" stroke-width="0" fill="url(#hX)"/>
<path d="M446 752 L446.6 800" stroke="#3c3c3c" stroke-width="0.5" fill="none"/>
<path d="M398.6 781.4 H421.4 V786.4 H398.6 Z" stroke="#3c3c3c" stroke-width="0.8" fill="url(#hC)"/>
<path d="M399.3 784.3 H402.9 V794.3 H399.3 Z" stroke="#3c3c3c" stroke-width="0.8" fill="#fff"/>
<path d="M402.9 786.4 H440 V792.1 H402.9" stroke="#3c3c3c" stroke-width="0.8" fill="#fff"/>
<path d="M440 786.4 L441.6 789.2 L440 792.1" stroke="#3c3c3c" stroke-width="0.6" fill="none"/>
<path d="M398.6 794.3 L398.6 815.7 L404.3 815.7 L404.3 810 L423.6 810 L424.3 802.9 L424.3 792.1 L402.9 792.1" stroke="#3c3c3c" stroke-width="0.8" fill="#fff"/>
<path d="M403 808 Q404 796.5 412 794.6 L421 794.3" stroke="#3c3c3c" stroke-width="0.8" fill="none"/>
<path d="M405.5 808 Q406.5 799 413 797" stroke="#3c3c3c" stroke-width="0.6" fill="none"/>
<line x1="398.6" y1="801" x2="403.4" y2="801" stroke="#3c3c3c" stroke-width="0.7"/>
<line x1="398.6" y1="806.5" x2="403.4" y2="806.5" stroke="#3c3c3c" stroke-width="0.7"/>
<path d="M398.6 808.6 H404.3 V815.7 H398.6 Z" stroke="#3c3c3c" stroke-width="0.7" fill="url(#hC)"/>
<circle cx="414.3" cy="803.6" r="5.5" stroke="#000" stroke-width="0.5" fill="#0a0a0a"/>
<path d="M424.3 804.3 H445.7 V813.6 H424.3 Z" stroke="#3c3c3c" stroke-width="0.9" fill="url(#hA)"/>
<path d="M445.7 802.9 L449 800 L449.6 813.6 L445.7 813.6" stroke="#3c3c3c" stroke-width="0.6" fill="none"/>
<rect x="404.3" y="810" width="19.3" height="10.7" rx="0" stroke="#3c3c3c" stroke-width="0.8" fill="#fff"/>
<path d="M401.4 820.7 L423.6 820.7 L423.6 828.6 L427.9 832.9 L427.9 839.8 A11 11 0 0 1 416.9 850.8 L412.4 850.8 A11 11 0 0 1 401.4 839.8 Z" stroke="#3c3c3c" stroke-width="0.9" fill="url(#hB)"/>
<path d="M398.6 815.7 L398.6 836 L401.4 836" stroke="#3c3c3c" stroke-width="0.7" fill="none"/>
<line x1="423.6" y1="813.6" x2="423.6" y2="820.7" stroke="#3c3c3c" stroke-width="0.8"/>
<path d="M425.7 828.6 L447.1 820 Q449.5 818.5 449.6 813.6" stroke="#3c3c3c" stroke-width="0.8" fill="none"/>
<path d="M427.9 832.9 L448.6 822.9 L452.9 829.3" stroke="#3c3c3c" stroke-width="0.8" fill="none"/>
<path d="M450.7 702.1 L454.2 702.1 L454.2 826 Q454 829.3 452.6 829.3 Q450.9 829.3 450.7 826 Z" stroke="#3c3c3c" stroke-width="0.8" fill="#fff"/>
<path d="M455.3 720 L481 727.7 M455.3 720 Q455 746 466.7 762 L481 724.8 M466.7 762 L468.6 761.4 L483.2 722" stroke="#3c3c3c" stroke-width="0.8" fill="none"/>
<path d="M469.6 691.8 L495.3 691.8 L495.3 841.3 L469.6 841.3" stroke="#3c3c3c" stroke-width="0.9" fill="none"/>
<path d="M495.3 691.8 Q489.5 700 486 712 L481 724.8 L481 840.3" stroke="#3c3c3c" stroke-width="0.8" fill="none"/>
<path d="M492.8 691.8 Q487.5 700 484.2 712 L479.1 727 L479.1 840.3" stroke="#3c3c3c" stroke-width="0.6" fill="none"/>
<line x1="496.8" y1="717.2" x2="496.8" y2="814.5" stroke="#3c3c3c" stroke-width="0.7"/>
<line x1="473.4" y1="760" x2="473.4" y2="813.6" stroke="#3c3c3c" stroke-width="0.7"/>
<path d="M454.4 814.5 L476 814.5 Q478.4 815 479.1 817.5" stroke="#3c3c3c" stroke-width="0.8" fill="none"/>
<line x1="479.1" y1="839.6" x2="495.3" y2="839.6" stroke="#3c3c3c" stroke-width="0.6"/>
<line x1="469.6" y1="665" x2="469.6" y2="857" stroke="#555" stroke-width="0.8"/>
<polygon points="469.6,691.8 467.9,683.3 471.3,683.3" fill="#111"/>
<polygon points="469.6,841.3 467.9,849.8 471.3,849.8" fill="#111"/>
<text transform="translate(464.6 690) rotate(-90)" font-size="9.3" fill="#1a1a1a" stroke="#1a1a1a" stroke-width="0.2">Ø 140</text>
<path d="M496.8 717.2 L537.3 717.2 L537.3 812.6 L496.8 812.6 M496.8 814.5 L537.3 814.5 M500.1 719.4 L537.3 719.4" stroke="#3c3c3c" stroke-width="0.8" fill="none"/>
<line x1="500.1" y1="717.2" x2="500.1" y2="812.6" stroke="#3c3c3c" stroke-width="0.7"/>
<line x1="529.3" y1="717.2" x2="529.3" y2="812.6" stroke="#3c3c3c" stroke-width="0.7"/>
<line x1="539.2" y1="750.6" x2="539.2" y2="861" stroke="#3c3c3c" stroke-width="0.8"/>
<line x1="515.3" y1="664" x2="515.3" y2="838" stroke="#555" stroke-width="0.8"/>
<polygon points="515.3,717.9 513.6,709.4 517.0,709.4" fill="#111"/>
<polygon points="515.3,812.7 513.6,821.2 517.0,821.2" fill="#111"/>
<text transform="translate(510.8 697.6) rotate(-90)" font-size="9.3" fill="#1a1a1a" stroke="#1a1a1a" stroke-width="0.2">Ø 90 <tspan font-size="5.5">f7</tspan></text>
<path d="M544.4 751.1 L614.2 751.1 L614.2 781.7 L544.4 781.7 Q542.2 766 544.4 751.1 Z" stroke="#3c3c3c" stroke-width="0.9" fill="url(#hD)"/>
<path d="M539.2 751.1 L544.4 751.1 M539.2 781.7 L544.4 781.7 M546.4 751.1 Q544.4 766 546.4 781.7" stroke="#3c3c3c" stroke-width="0.7" fill="none"/>
<path d="M555.6 751.1 L555.6 755.5 L598.6 755.5 L598.6 751.1" stroke="#3c3c3c" stroke-width="0.7" fill="#fff"/>
<line x1="558" y1="751.1" x2="558" y2="755.5" stroke="#3c3c3c" stroke-width="0.6"/>
<line x1="596" y1="751.1" x2="596" y2="755.5" stroke="#3c3c3c" stroke-width="0.6"/>
<line x1="554" y1="669" x2="554" y2="751.1" stroke="#555" stroke-width="0.8"/>
<line x1="598.5" y1="669" x2="598.5" y2="751.1" stroke="#555" stroke-width="0.8"/>
<line x1="554" y1="671.5" x2="650" y2="671.5" stroke="#555" stroke-width="0.8"/>
<polygon points="554.0,671.5 562.5,669.8 562.5,673.2" fill="#111"/>
<polygon points="598.5,671.5 590.0,669.8 590.0,673.2" fill="#111"/>
<polygon points="614.2,671.5 622.7,669.8 622.7,673.2" fill="#111"/>
<text x="575.5" y="666.5" font-size="9.3" text-anchor="middle" fill="#1a1a1a" stroke="#1a1a1a" stroke-width="0.2">40</text>
<text x="634" y="666.5" font-size="9.3" text-anchor="middle" fill="#1a1a1a" stroke="#1a1a1a" stroke-width="0.2">15</text>
<rect x="556" y="709" width="42.5" height="11" rx="5.4" stroke="#3c3c3c" stroke-width="0.9" fill="none"/>
<line x1="580" y1="674" x2="580" y2="745" stroke="#888" stroke-width="0.7"/>
<polygon points="580.0,709.0 578.3,700.5 581.7,700.5" fill="#111"/>
<polygon points="580.0,720.0 578.3,728.5 581.7,728.5" fill="#111"/>
<text transform="translate(575 696.5) rotate(-90)" font-size="9.3" fill="#1a1a1a" stroke="#1a1a1a" stroke-width="0.2">8<tspan font-size="5.5" dy="-4">P9</tspan></text>
<line x1="614.2" y1="751.1" x2="661" y2="751.1" stroke="#555" stroke-width="0.8"/>
<line x1="614.2" y1="755.7" x2="639" y2="755.7" stroke="#555" stroke-width="0.8"/>
<line x1="614.2" y1="781.7" x2="661" y2="781.7" stroke="#555" stroke-width="0.8"/>
<line x1="636.3" y1="707.5" x2="636.3" y2="774" stroke="#888" stroke-width="0.7"/>
<polygon points="636.3,751.1 634.6,742.6 638.0,742.6" fill="#111"/>
<polygon points="636.3,755.7 634.6,764.2 638.0,764.2" fill="#111"/>
<text x="633.8" y="727" font-size="9.3" text-anchor="middle" fill="#1a1a1a" stroke="#1a1a1a" stroke-width="0.2" transform="rotate(-90 633.8 727)">4</text>
<line x1="658.8" y1="706" x2="658.8" y2="751" stroke="#555" stroke-width="0.8"/>
<polygon points="658.8,751.1 657.1,742.6 660.5,742.6" fill="#111"/>
<line x1="658.8" y1="782" x2="658.8" y2="809" stroke="#555" stroke-width="0.8"/>
<polygon points="658.8,781.7 657.1,790.2 660.5,790.2" fill="#111"/>
<text transform="translate(655.6 734.5) rotate(-90)" font-size="9.3" fill="#1a1a1a" stroke="#1a1a1a" stroke-width="0.2">Ø 28 <tspan font-size="5.5">k6</tspan></text>
<line x1="522.5" y1="858.6" x2="614.2" y2="858.6" stroke="#555" stroke-width="0.8"/>
<polygon points="539.2,858.6 530.7,856.9 530.7,860.3" fill="#111"/>
<polygon points="541.8,858.6 550.3,856.9 550.3,860.3" fill="#111"/>
<polygon points="614.2,858.6 605.7,856.9 605.7,860.3" fill="#111"/>
<text x="532.5" y="856" font-size="9.3" text-anchor="middle" fill="#1a1a1a" stroke="#1a1a1a" stroke-width="0.2">1</text>
<text x="567" y="856" font-size="9.3" text-anchor="middle" fill="#1a1a1a" stroke="#1a1a1a" stroke-width="0.2">70</text>
<line x1="400.9" y1="851" x2="400.9" y2="875.5" stroke="#555" stroke-width="0.8"/>
<line x1="427.9" y1="840" x2="427.9" y2="875.5" stroke="#555" stroke-width="0.8"/>
<line x1="400.9" y1="873.3" x2="427.9" y2="873.3" stroke="#555" stroke-width="0.8"/>
<polygon points="400.9,873.3 409.4,871.6 409.4,875.0" fill="#111"/>
<polygon points="427.9,873.3 419.4,871.6 419.4,875.0" fill="#111"/>
<text x="414.3" y="869.6" font-size="9.3" text-anchor="middle" fill="#1a1a1a" stroke="#1a1a1a" stroke-width="0.2">25</text>
<line x1="479.3" y1="840.2" x2="479.3" y2="875.5" stroke="#555" stroke-width="0.8"/>
<line x1="481.9" y1="840.2" x2="481.9" y2="875.5" stroke="#555" stroke-width="0.7"/>
<line x1="462.5" y1="873.3" x2="519" y2="873.3" stroke="#555" stroke-width="0.8"/>
<polygon points="479.3,873.3 470.8,871.6 470.8,875.0" fill="#111"/>
<polygon points="498.6,873.3 507.1,871.6 507.1,875.0" fill="#111"/>
<text x="467.7" y="869.6" font-size="9.3" text-anchor="middle" fill="#1a1a1a" stroke="#1a1a1a" stroke-width="0.2">15</text>
<text x="514.5" y="869.6" font-size="9.3" text-anchor="middle" fill="#1a1a1a" stroke="#1a1a1a" stroke-width="0.2">4</text>
<line x1="498.6" y1="812.7" x2="498.6" y2="875.5" stroke="#555" stroke-width="0.8"/>
<line x1="495.2" y1="840.2" x2="495.2" y2="896" stroke="#555" stroke-width="0.8"/>
<circle cx="495.2" cy="873.5" r="2" stroke="#000" stroke-width="0.4" fill="#0a0a0a"/>
<line x1="398.4" y1="893.7" x2="495.2" y2="893.7" stroke="#555" stroke-width="0.8"/>
<polygon points="398.4,893.7 406.9,892.0 406.9,895.4" fill="#111"/>
<polygon points="495.2,893.7 486.7,892.0 486.7,895.4" fill="#111"/>
<text x="445" y="890.6" font-size="9.3" text-anchor="middle" fill="#1a1a1a" stroke="#1a1a1a" stroke-width="0.2">91</text>
<line x1="381" y1="716" x2="381" y2="809" stroke="#555" stroke-width="0.8"/>
<polygon points="381.0,750.7 379.3,742.2 382.7,742.2" fill="#111"/>
<polygon points="381.0,781.4 379.3,789.9 382.7,789.9" fill="#111"/>
<text transform="translate(372.8 778.2) rotate(-90)" font-size="9.3" fill="#1a1a1a" stroke="#1a1a1a" stroke-width="0.2">22-30<tspan font-size="6.5" dy="-2" dx="0.3">+</tspan><tspan font-size="5.6" dy="-2.2" dx="0.2">0.15</tspan><tspan font-size="5.6" dy="5.6" dx="-10.6">0</tspan></text>
<line x1="398.4" y1="774.4" x2="421.4" y2="774.4" stroke="#555" stroke-width="0.8"/>
<polygon points="398.6,774.4 406.1,772.7 406.1,776.1" fill="#111"/>
<polygon points="421.2,774.4 413.7,772.7 413.7,776.1" fill="#111"/>
<text x="410" y="770.3" font-size="9.3" text-anchor="middle" fill="#1a1a1a" stroke="#1a1a1a" stroke-width="0.2">22</text>
</g>
<!--/DRAWINGS-->
</svg>
</body>
</html>
